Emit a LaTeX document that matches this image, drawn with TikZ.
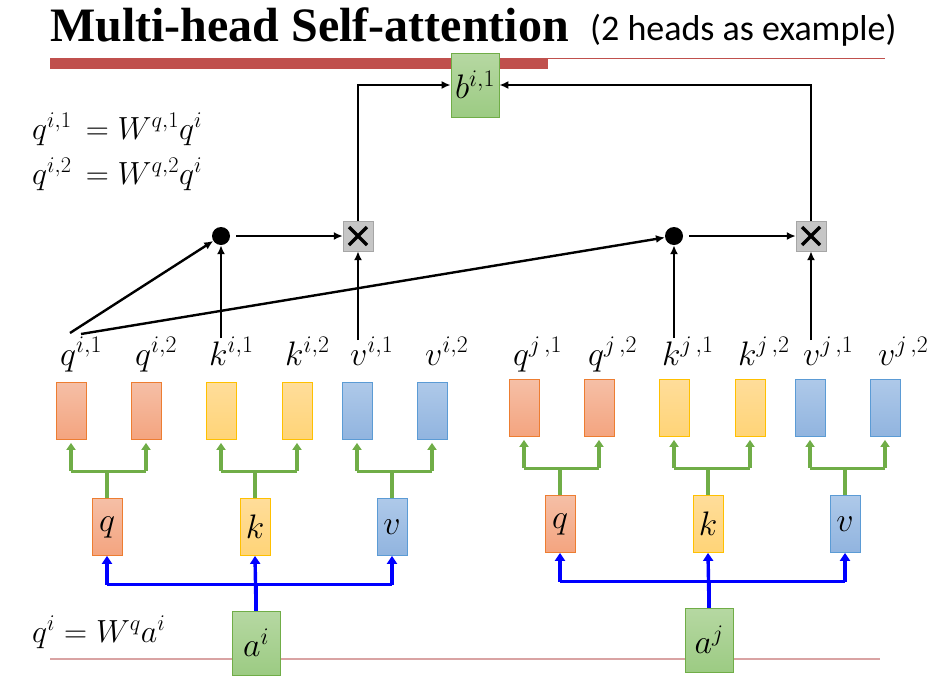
\RequirePackage{fix-cm}
\documentclass[tikz,border=0pt]{standalone}
\usepackage{fontspec}
\newfontfamily\titlefont{Liberation Serif}
\newfontfamily\notefont{Carlito}
\usetikzlibrary{arrows.meta, positioning}

\definecolor{qtop}{HTML}{F5BFA6}
\definecolor{qbot}{HTML}{F4A47F}
\definecolor{qline}{HTML}{ED7D31}
\definecolor{ktop}{HTML}{FFDD9A}
\definecolor{kbot}{HTML}{FFD477}
\definecolor{kline}{HTML}{FFC000}
\definecolor{vtop}{HTML}{AEC9E9}
\definecolor{vbot}{HTML}{91B4DF}
\definecolor{vline}{HTML}{5B9BD5}
\definecolor{gtop}{HTML}{B6D8A2}
\definecolor{gbot}{HTML}{9CCB83}
\definecolor{gline}{HTML}{70AD47}
\definecolor{barred}{HTML}{C0504D}
\definecolor{rule}{HTML}{D9A3A3}

\begin{document}
\begin{tikzpicture}[x=1pt, y=-1pt,
        every node/.style={inner sep=0pt},
        vec/.style={draw, line width=0.8pt, minimum width=30pt, minimum height=57pt},
        qbox/.style={vec, draw=qline, top color=qtop, bottom color=qbot},
        kbox/.style={vec, draw=kline, top color=ktop, bottom color=kbot},
        vbox/.style={vec, draw=vline, top color=vtop, bottom color=vbot},
        inbox/.style={draw=gline, line width=0.8pt, top color=gtop, bottom color=gbot, minimum width=48pt, minimum height=64pt},
        dotnode/.style={circle, fill=black, minimum size=18pt},
        mulbox/.style={draw=gray!70, fill=gray!45, minimum size=30pt,
            path picture={\draw[black, line width=3.2pt] ([shift={(-9pt,-9pt)}]path picture bounding box.center) -- ([shift={(9pt,9pt)}]path picture bounding box.center)
                ([shift={(-9pt,9pt)}]path picture bounding box.center) -- ([shift={(9pt,-9pt)}]path picture bounding box.center);}},
        lab/.style={font=\fontsize{32}{36}\selectfont},
        hlab/.style={font=\fontsize{34}{38}\selectfont},
        arr/.style={-{Latex[length=9pt, width=8pt]}, line width=2.4pt},
        split/.style={gline, line width=3.2pt},
        splitarr/.style={split, -{Triangle[length=7pt, width=9pt]}},
        feed/.style={blue, line width=3.4pt},
        feedarr/.style={feed, -{Triangle[length=8pt, width=10pt]}}
    ]
    \useasboundingbox (0,0) rectangle (930,678);

    % title and rules
    \node[anchor=base west] (title) at (50,41) {\titlefont\bfseries\fontsize{48}{52}\selectfont Multi-head Self-attention};
    \node[anchor=base west] (note) at (590,40) {\notefont\fontsize{36}{40}\selectfont (2 heads as example)};
    \fill[barred] (50,58) rectangle (548,69);
    \draw[barred, line width=0.8pt] (548,58.5) -- (885,58.5);
    \draw[rule, line width=1.2pt] (50,659) -- (880,659);

    % formulas
    \node[lab, anchor=base west] (eq1) at (32,139) {$q^{i,1}\,=W^{q,1}q^i$};
    \node[lab, anchor=base west] (eq2) at (32,184) {$q^{i,2}\,=W^{q,2}q^i$};
    \node[lab, anchor=base west] (eq0) at (32,642) {$q^i=W^q a^i$};

    \node[inbox, hlab] (b) at (475,85) {$b^{i,1}$};

    \foreach \h/\dx/\dy/\g in {i/0/0/, j/453/-3/\,}{
        % input and q, k, v
        \node[inbox, hlab] (a\h) at (256+\dx,643+\dy) {$a^\h$};
        \node[qbox, hlab] (mq\h) at (107+\dx,527+\dy) {$q$};
        \node[kbox, hlab] (mk\h) at (255+\dx,527+\dy) {$k$};
        \node[vbox, hlab] (mv\h) at (392+\dx,527+\dy) {$v$};
        % two heads
        \node[qbox] (tq1\h) at (71+\dx,411+\dy) {};
        \node[qbox] (tq2\h) at (146+\dx,411+\dy) {};
        \node[kbox] (tk1\h) at (221+\dx,411+\dy) {};
        \node[kbox] (tk2\h) at (297+\dx,411+\dy) {};
        \node[vbox] (tv1\h) at (357+\dx,411+\dy) {};
        \node[vbox] (tv2\h) at (432+\dx,411+\dy) {};
        \node[hlab, anchor=base west] (lq1\h) at (60+\dx,365) {$q^{\h\g,1}$};
        \node[hlab, anchor=base west] (lq2\h) at (135+\dx,365) {$q^{\h\g,2}$};
        \node[hlab, anchor=base west] (lk1\h) at (209+\dx,365) {$k^{\h\g,1}$};
        \node[hlab, anchor=base west] (lk2\h) at (285+\dx,365) {$k^{\h\g,2}$};
        \node[hlab, anchor=base west] (lv1\h) at (350+\dx,365) {$v^{\h\g,1}$};
        \node[hlab, anchor=base west] (lv2\h) at (425+\dx,365) {$v^{\h\g,2}$};
        \node[dotnode] (dot\h) at (221+\dx,236) {};
        \node[mulbox] (mul\h) at (358+\dx,236) {};

        % blue: a -> q, k, v
        \draw[feed] (a\h.north) -- ++(0,-26) coordinate (fa\h);
        \draw[feed] (fa\h -| mq\h) -- (fa\h -| mv\h);
        \draw[feedarr] (fa\h -| mq\h) -- (mq\h.south);
        \draw[feedarr] (a\h.north) -- (mk\h.south);
        \draw[feedarr] (fa\h -| mv\h) -- (mv\h.south);

        % green: split into heads
        \foreach \m/\l/\r in {mq/tq1/tq2, mk/tk1/tk2, mv/tv1/tv2}{
            \draw[split] (\m\h.north) -- ++(0,-27) coordinate (s\m\h);
            \draw[split] (s\m\h -| \l\h) -- (s\m\h -| \r\h);
            \draw[splitarr] (s\m\h -| \l\h) -- ([yshift=-3pt]\l\h.south);
            \draw[splitarr] (s\m\h -| \r\h) -- ([yshift=-3pt]\r\h.south);
        }

        \draw[arr] (dot\h |- 0,338) -- (dot\h);
        \draw[arr] (mul\h |- 0,340) -- (mul\h);
        \draw[arr, shorten <=6pt] (dot\h) -- (mul\h);
    }

    \coordinate (qa) at (70,333);
    \coordinate (qb) at (81,334);
    \draw[arr] (qa) -- (doti);
    \draw[arr] (qb) -- (dotj);
    \draw[arr] (muli.north) |- (b.west);
    \draw[arr] (mulj.north) |- (b.east);
\end{tikzpicture}
\end{document}
